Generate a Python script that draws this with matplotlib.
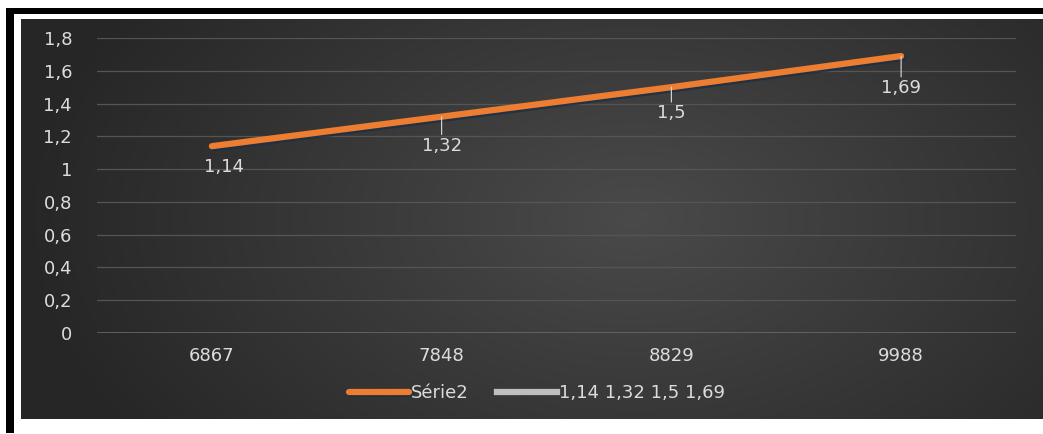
import numpy as np
import matplotlib
matplotlib.use("Agg")
import matplotlib.pyplot as plt
import matplotlib.patheffects as pe
from matplotlib.patches import Rectangle

# Data
categories = ["6867", "7848", "8829", "9988"]
serie2 = [1.14, 1.32, 1.5, 1.69]
serie2_label = "Série2"
second_label = "1,14 1,32 1,5 1,69"
yticks = [0, 0.2, 0.4, 0.6, 0.8, 1.0, 1.2, 1.4, 1.6, 1.8]

# Label placement (pixels below each point) and horizontal nudge
label_drop_px = [21, 29, 26, 32]
label_nudge_px = [12, 0, 0, 0]

W, H = 1043, 434
FS = 13
TXT = "#dcdcdc"
plt.rcParams["font.family"] = ["DejaVu Sans"]
fig = plt.figure(figsize=(W / 100, H / 100), dpi=100)
fig.patch.set_facecolor("white")

def fx(px):
    return px / W

def fy(py):
    return 1 - py / H

# Black frame (top and left)
fig.add_artist(Rectangle((fx(6), fy(14)), fx(1043 - 6), 6 / H, transform=fig.transFigure,
                         facecolor="black", edgecolor="none", zorder=0))
fig.add_artist(Rectangle((fx(6), fy(433)), 8 / W, (433 - 8) / H, transform=fig.transFigure,
                         facecolor="black", edgecolor="none", zorder=0))

# Dark chart area with soft radial gradient
bg = fig.add_axes([fx(21), fy(419), fx(1043 - 21), (419 - 19) / H], zorder=1)
nx, ny = 400, 160
gx = np.linspace(-1, 1, nx)
gy = np.linspace(-1, 1, ny)
X, Y = np.meshgrid(gx, gy)
cx = 0.2
r = np.sqrt(((X - cx) / 1.0) ** 2 + (Y / 1.6) ** 2)
val = 0.29 - 0.14 * np.clip(r, 0, 1.2) / 1.2
bg.imshow(np.dstack([val, val, val]), aspect="auto", extent=[0, 1, 0, 1], interpolation="bilinear")
bg.set_axis_off()

# Plot area
ax = fig.add_axes([fx(97), fy(333), fx(1016 - 97), (333 - 38) / H], zorder=2)
ax.patch.set_alpha(0)
x = np.arange(len(categories))
ax.set_xlim(-0.5, len(categories) - 0.5)
ax.set_ylim(0, 1.8)
ax.set_yticks(yticks)
ax.set_yticklabels([f"{t:g}".replace(".", ",") for t in yticks])
ax.set_xticks(x)
ax.set_xticklabels(categories)
ax.tick_params(axis="both", length=0, colors=TXT, labelsize=FS)
ax.tick_params(axis="y", pad=18)
ax.tick_params(axis="x", pad=10)
for s in ax.spines.values():
    s.set_visible(False)
ax.grid(axis="y", color="#555555", linewidth=0.9)
ax.axhline(0, color="#6a6a6a", linewidth=1.2, zorder=1)

shadow = [pe.SimpleLineShadow(offset=(1.5, -1.5), shadow_color="#1c2f45", alpha=0.8), pe.Normal()]
ax.plot(x, serie2, color="#ED7D31", linewidth=4.5, solid_capstyle="round",
        label=serie2_label, path_effects=shadow, zorder=3)
ax.plot([], [], color="#bfbfbf", linewidth=4.5, label=second_label)

# Data labels below each point with a short leader line
for i, v in enumerate(serie2):
    drop = label_drop_px[i] * 0.72
    if i > 0:
        ax.annotate("", xy=(i, v), xycoords="data", xytext=(0, -(drop - 8)), textcoords="offset points",
                    arrowprops=dict(arrowstyle="-", color=TXT, lw=0.8, shrinkA=0, shrinkB=0),
                    zorder=4)
    ax.annotate(f"{v:g}".replace(".", ","), xy=(i, v), xytext=(label_nudge_px[i] * 0.72, -drop),
                textcoords="offset points", ha="center", va="center", color=TXT,
                fontsize=FS, zorder=4)

leg = fig.legend(loc="center", bbox_to_anchor=(fx(537), fy(393)), ncol=2, frameon=False,
                 handlelength=3.3, handletextpad=0.1, columnspacing=1.6, fontsize=FS)
for t in leg.get_texts():
    t.set_color(TXT)

fig.savefig("out.png", dpi=100, facecolor=fig.get_facecolor())
